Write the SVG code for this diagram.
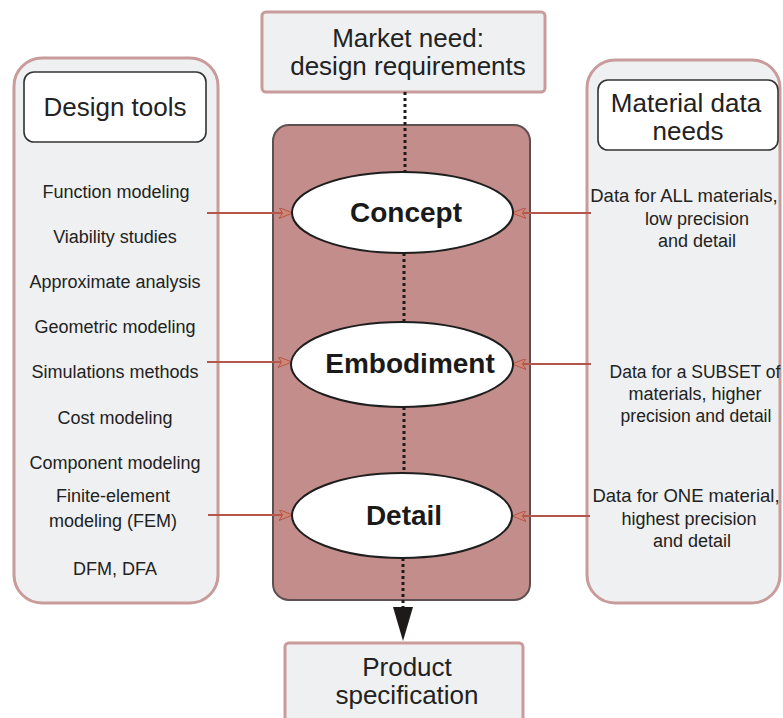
<svg xmlns="http://www.w3.org/2000/svg" width="783" height="718" viewBox="0 0 783 718">
  <defs>
    <style>
      .panel { fill: #eef0f1; stroke: #c99b9b; stroke-width: 3; }
      .title { fill: #ffffff; stroke: #333333; stroke-width: 1.6; }
      .core { fill: #c38d8b; stroke: #5e5050; stroke-width: 2; }
      .stage { fill: #ffffff; stroke: #1e1e1e; stroke-width: 2; }
      .dots { stroke: #1e1a1a; stroke-width: 3; stroke-dasharray: 3 3; fill: none; }
      .feed { stroke: #b4574a; stroke-width: 2.2; fill: none; }
      text { font-family: "Liberation Sans", Arial, Helvetica, sans-serif; fill: #222222; text-anchor: middle; }
      .big { font-size: 26px; }
      .item { font-size: 18px; }
      .need { font-size: 18px; }
      .stagetxt { font-size: 28px; font-weight: bold; fill: #1a1a1a; }
    </style>
    <marker id="feedhead" viewBox="0 0 14 11" refX="13" refY="5.5" markerWidth="14" markerHeight="11" markerUnits="userSpaceOnUse" orient="auto">
      <path d="M0,0 L14,5.5 L0,11 L3.5,5.5 Z" fill="#cf8676" stroke="#b4574a" stroke-width="1"/>
    </marker>
  </defs>

  <!-- left column: design tools -->
  <g id="design-tools">
    <rect class="panel" x="14" y="58" width="204" height="545" rx="28"/>
    <rect class="title" x="24" y="72" width="182" height="70" rx="10"/>
    <text class="big" x="115" y="116">Design tools</text>
    <text class="item" x="116" y="198">Function modeling</text>
    <text class="item" x="115" y="243">Viability studies</text>
    <text class="item" x="115" y="288">Approximate analysis</text>
    <text class="item" x="115" y="333">Geometric modeling</text>
    <text class="item" x="115" y="378">Simulations methods</text>
    <text class="item" x="115" y="424">Cost modeling</text>
    <text class="item" x="115" y="469">Component modeling</text>
    <text class="item" x="113" y="502">Finite-element</text>
    <text class="item" x="113" y="527">modeling (FEM)</text>
    <text class="item" x="115" y="575">DFM, DFA</text>
  </g>

  <!-- right column: material data needs -->
  <g id="material-data">
    <rect class="panel" x="587" y="60" width="193" height="543" rx="28"/>
    <rect class="title" x="598" y="80" width="180" height="70" rx="10"/>
    <text class="big" x="686" y="112">Material data</text>
    <text class="big" x="688" y="140">needs</text>
    <text class="need" x="684" y="202" style="font-size:18.5px">Data for ALL materials,</text>
    <text class="need" x="697" y="225">low precision</text>
    <text class="need" x="697" y="247">and detail</text>
    <text class="need" x="695" y="378" style="font-size:17.5px">Data for a SUBSET of</text>
    <text class="need" x="695" y="400">materials, higher</text>
    <text class="need" x="696" y="422" style="font-size:17.5px">precision and detail</text>
    <text class="need" x="686" y="502" style="font-size:18.5px">Data for ONE material,</text>
    <text class="need" x="689" y="525">highest precision</text>
    <text class="need" x="692" y="547">and detail</text>
  </g>

  <!-- input and output boxes -->
  <g id="market-need">
    <rect class="panel" x="262" y="12" width="283" height="80" rx="4"/>
    <text class="big" x="408" y="47">Market need:</text>
    <text class="big" x="408" y="75">design requirements</text>
  </g>
  <g id="product-spec">
    <rect class="panel" x="285" y="643" width="238" height="90" rx="4"/>
    <text class="big" x="407" y="676">Product</text>
    <text class="big" x="407" y="704">specification</text>
  </g>

  <!-- design process core -->
  <g id="process">
    <rect class="core" x="273" y="125" width="257" height="475" rx="16"/>
  </g>

  <g id="connectors">
    <!-- dotted flow through the stages -->
    <line class="dots" x1="405" y1="92" x2="405" y2="172"/>
    <line class="dots" x1="404" y1="253" x2="404" y2="323"/>
    <line class="dots" x1="404" y1="407" x2="404" y2="473"/>
    <line class="dots" x1="403" y1="558" x2="403" y2="608"/>
    <path d="M393,607 L413,607 L403,641 Z" fill="#1e1a1a"/>
    <!-- tool and data feeds -->
    <line class="feed" x1="207" y1="213" x2="292" y2="213" marker-end="url(#feedhead)"/>
    <line class="feed" x1="207" y1="362" x2="291" y2="362" marker-end="url(#feedhead)"/>
    <line class="feed" x1="208" y1="515" x2="292" y2="515" marker-end="url(#feedhead)"/>
    <line class="feed" x1="591" y1="213" x2="513" y2="213" marker-end="url(#feedhead)"/>
    <line class="feed" x1="591" y1="364" x2="513" y2="364" marker-end="url(#feedhead)"/>
    <line class="feed" x1="590" y1="516" x2="513" y2="516" marker-end="url(#feedhead)"/>
  </g>

  <g id="concept">
    <ellipse class="stage" cx="402.5" cy="212.5" rx="110.5" ry="40.5"/>
    <text class="stagetxt" x="406" y="222">Concept</text>
  </g>
  <g id="embodiment">
    <ellipse class="stage" cx="402" cy="364.5" rx="111" ry="42.5"/>
    <text class="stagetxt" x="410" y="373">Embodiment</text>
  </g>
  <g id="detail">
    <ellipse class="stage" cx="402" cy="515.5" rx="110" ry="42.5"/>
    <text class="stagetxt" x="404" y="525">Detail</text>
  </g>
</svg>
